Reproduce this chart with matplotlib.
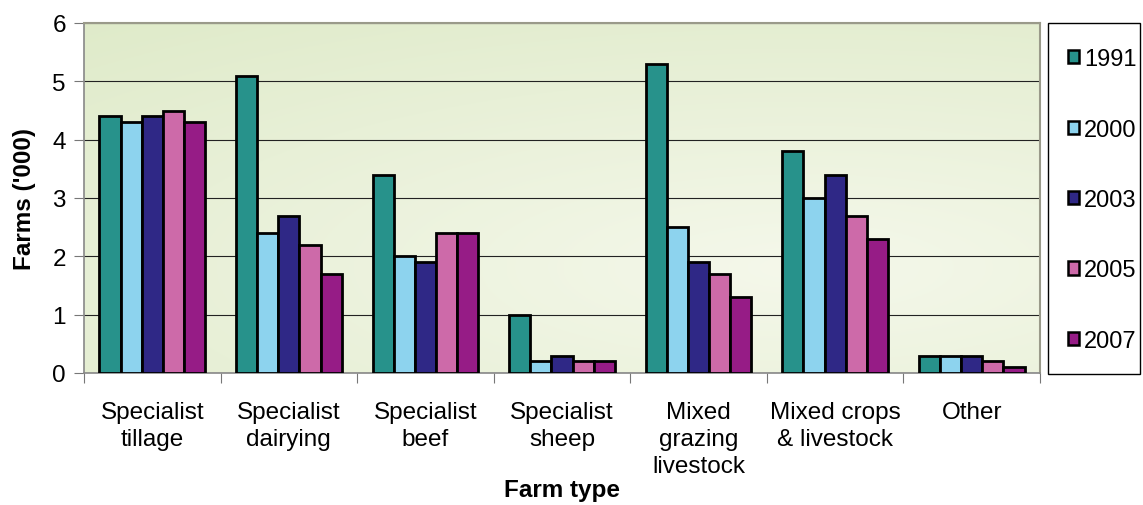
import numpy as np
import matplotlib.pyplot as plt
from matplotlib.patches import Rectangle

plt.rcParams['font.family'] = ['Liberation Sans', 'DejaVu Sans']

categories = ["Specialist\ntillage", "Specialist\ndairying", "Specialist\nbeef",
              "Specialist\nsheep", "Mixed\ngrazing\nlivestock", "Mixed crops\n& livestock", "Other"]
years = ["1991", "2000", "2003", "2005", "2007"]
farms = {
    "1991": [4.4, 5.1, 3.4, 1.0, 5.3, 3.8, 0.3],
    "2000": [4.3, 2.4, 2.0, 0.2, 2.5, 3.0, 0.3],
    "2003": [4.4, 2.7, 1.9, 0.3, 1.9, 3.4, 0.3],
    "2005": [4.5, 2.2, 2.4, 0.2, 1.7, 2.7, 0.2],
    "2007": [4.3, 1.7, 2.4, 0.2, 1.3, 2.3, 0.1],
}
colors = ["#27928b", "#8dd3ee", "#2f2886", "#cd6aa9", "#961c86"]

fs = 17.5

fig = plt.figure(figsize=(11.43, 5.06), dpi=100)
ax = fig.add_axes([84/1143, 1-374/506, (1040-84)/1143, (374-24)/506])

# background gradient (greenish at edges, lighter in the middle/right)
yy, xx = np.mgrid[0:1:200j, 0:1:400j]
d = np.sqrt(((xx - 0.75) / 1.0) ** 2 + ((yy - 0.3) / 0.8) ** 2)
d = np.clip(d / d.max(), 0, 1)
c_in = np.array([0.96, 0.972, 0.92])
c_out = np.array([0.875, 0.92, 0.79])
img = c_in + (c_out - c_in) * d[..., None]
ax.imshow(img, extent=[0, 1, 0, 1], transform=ax.transAxes, aspect='auto', zorder=0, origin='lower')

x = np.arange(len(categories))
w = 0.155
for i, yr in enumerate(years):
    ax.bar(x + (i - 2) * w, farms[yr], width=w, color=colors[i], edgecolor='black',
           linewidth=2.0, zorder=3, label=yr)

ax.set_xlim(-0.5, len(categories) - 0.5)
ax.set_ylim(0, 6)
ax.set_yticks(range(7))
ax.yaxis.grid(True, color='#222222', linewidth=0.8, zorder=1)
ax.set_axisbelow(True)

ax.set_xticks(np.arange(-0.5, len(categories), 1.0))
ax.set_xticklabels([])
ax.set_xticks(x, minor=True)
ax.set_xticklabels(categories, minor=True, fontsize=fs, va='top', linespacing=1.3)
ax.tick_params(axis='x', which='minor', length=0, pad=20)
ax.tick_params(axis='x', which='major', length=7, color='#777777', direction='out')
ax.tick_params(axis='y', length=7, color='#777777', labelsize=fs, pad=6)

for s in ['left', 'bottom']:
    ax.spines[s].set_color('#888888')
    ax.spines[s].set_linewidth(1.2)
for s in ['top', 'right']:
    ax.spines[s].set_color('#9a9a8a')
    ax.spines[s].set_linewidth(1.5)

ax.set_ylabel("Farms ('000)", fontsize=fs, fontweight='bold', labelpad=12)
ax.set_xlabel("Farm type", fontsize=fs, fontweight='bold', labelpad=1)

# legend box
fig.patches.append(Rectangle((1048/1143, 1-375/506), (1140-1048)/1143, (375-24)/506,
                             transform=fig.transFigure, facecolor='white',
                             edgecolor='black', linewidth=1.0))
handles, labels = ax.get_legend_handles_labels()
leg = fig.legend(handles, labels, loc='center left', bbox_to_anchor=(1068/1143, 1-201/506),
                 frameon=False, fontsize=17, labelspacing=2.05, handlelength=0.48,
                 handleheight=0.48, handletextpad=0.2, borderaxespad=0, borderpad=0)
for h in leg.legend_handles:
    h.set_linewidth(1.8)

fig.savefig("out.png", dpi=100)
